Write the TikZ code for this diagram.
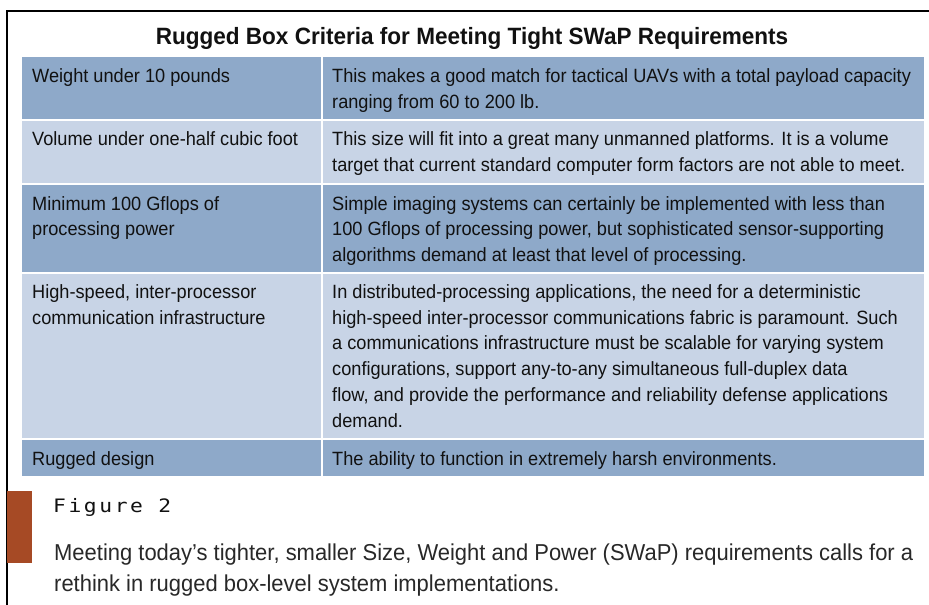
\documentclass[tikz,border=0pt]{standalone}
\usepackage{fontspec}
\setmainfont{Liberation Sans}[FakeStretch=0.947]
\newfontfamily\titlef{Liberation Sans}[FakeStretch=0.955]
\newfontfamily\capf{Liberation Sans}[FakeStretch=0.955]
\newfontfamily\monof{DejaVu Sans Mono}[FakeStretch=1.15,LetterSpace=14]
\definecolor{rowdark}{RGB}{142,169,201}
\definecolor{rowlight}{RGB}{200,212,230}
\definecolor{barorange}{RGB}{166,74,37}
\definecolor{txt}{RGB}{17,17,17}
\definecolor{captxt}{RGB}{40,40,40}
\newcommand\celltxt[1]{\begin{tabular}[t]{@{}l@{}}#1\end{tabular}}
\tikzset{
  cell/.style={anchor=base west, inner sep=0pt, text=txt, font=\fontsize{19.2}{25.7}\selectfont},
  sepline/.style={white, line width=2pt},
}
\begin{document}
\begin{tikzpicture}[x=1pt,y=-1pt]
\useasboundingbox (0,0) rectangle (929,605);
\fill[white] (0,0) rectangle (929,605);
% frame
\draw[line width=1.3pt] (929,11) -- (7,11) -- (7,605);
% title
\node[anchor=base, inner sep=0pt, text=txt, font=\titlef\bfseries\fontsize{23.6}{26}\selectfont] (title) at (472,44.3) {Rugged Box Criteria for Meeting Tight SWaP Requirements};
% rows
\fill[rowdark]  (22,57)    rectangle (924,119.5);
\fill[rowlight] (22,119.5) rectangle (924,183.5);
\fill[rowdark]  (22,183.5) rectangle (924,272.5);
\fill[rowlight] (22,272.5) rectangle (924,439);
\fill[rowdark]  (22,439)   rectangle (924,476);
\draw[sepline] (22,119.5) -- (924,119.5);
\draw[sepline] (22,183.5) -- (924,183.5);
\draw[sepline] (22,272.5) -- (924,272.5);
\draw[sepline] (22,439) -- (924,439);
\draw[sepline] (322,57) -- (322,476);
% cells
\node[cell] (l1) at (32,82.7) {\celltxt{Weight under 10 pounds}};
\node[cell] (r1) at (332,82.7) {\celltxt{This makes a good match for tactical UAVs with a total payload capacity\\ranging from 60 to 200 lb.}};
\node[cell] (l2) at (32,145.5) {\celltxt{Volume under one-half cubic foot}};
\node[cell] (r2) at (332,145.5) {\celltxt{This size will fit into a great many unmanned platforms. It is a volume\\target that current standard computer form factors are not able to meet.}};
\node[cell] (l3) at (32,210) {\celltxt{Minimum 100 Gflops of\\processing power}};
\node[cell] (r3) at (332,210) {\celltxt{Simple imaging systems can certainly be implemented with less than\\100 Gflops of processing power, but sophisticated sensor-supporting\\algorithms demand at least that level of processing.}};
\node[cell] (l4) at (32,298.5) {\celltxt{High-speed, inter-processor\\communication infrastructure}};
\node[cell] (r4) at (332,298.5) {\celltxt{In distributed-processing applications, the need for a deterministic\\high-speed inter-processor communications fabric is paramount. Such\\a communications infrastructure must be scalable for varying system\\configurations, support any-to-any simultaneous full-duplex data\\flow, and provide the performance and reliability defense applications\\demand.}};
\node[cell] (l5) at (32,465) {\celltxt{Rugged design}};
\node[cell] (r5) at (332,465) {\celltxt{The ability to function in extremely harsh environments.}};
% figure caption
\fill[barorange] (7,491) rectangle (31.5,563);
\node[anchor=base west, inner sep=0pt, text=txt, font=\monof\fontsize{18.5}{20}\selectfont] (fig) at (53,512) {Figure 2};
\node[anchor=base west, inner sep=0pt, text=captxt, font=\capf\fontsize{23}{31}\selectfont] (cap) at (54,560.7) {\celltxt{Meeting today’s tighter, smaller Size, Weight and Power (SWaP) requirements calls for a\\rethink in rugged box-level system implementations.}};
\end{tikzpicture}
\end{document}
